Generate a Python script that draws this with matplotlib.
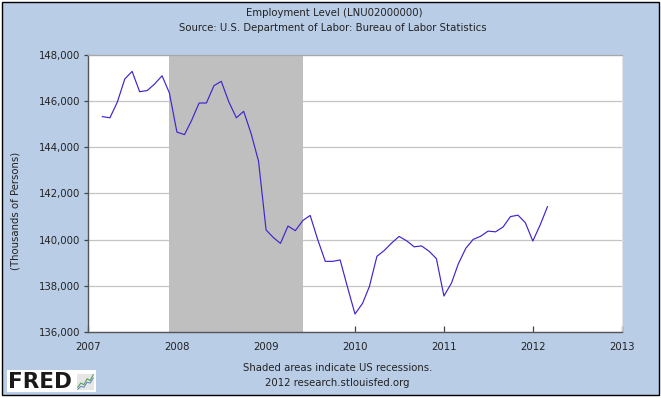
import matplotlib
matplotlib.use("Agg")
import matplotlib.pyplot as plt
import matplotlib.dates as mdates
import matplotlib.patches as mpatches
import pandas as pd
from matplotlib.ticker import FuncFormatter

# ---- data (thousands of persons), monthly Mar 2007 - Mar 2012 ----
start_month = "2007-03-01"
values = [
    145330, 145280, 145950, 146960, 147290, 146410, 146460, 146740, 147100, 146360,
    144660, 144550, 145160, 145920, 145920, 146670, 146860, 145970, 145280, 145560, 144580, 143400,
    140420, 140080, 139840, 140590, 140390, 140830, 141050, 140000, 139060, 139060, 139120, 137950,
    136780, 137240, 137970, 139280, 139530, 139860, 140140, 139950, 139690, 139730, 139500, 139180,
    137560, 138120, 138950, 139630, 140010, 140150, 140370, 140340, 140550, 141000, 141060, 140740,
    139940, 140660, 141430,
]
dates = pd.date_range(start_month, periods=len(values), freq="MS")

recession_start = "2007-12-01"
recession_end = "2009-06-01"

year_ticks = [2007, 2008, 2009, 2010, 2011, 2012, 2013]
y_ticks = [136000, 138000, 140000, 142000, 144000, 146000, 148000]

title = "Employment Level (LNU02000000)"
subtitle = "Source: U.S. Department of Labor: Bureau of Labor Statistics"
ylabel = "(Thousands of Persons)"
note1 = "Shaded areas indicate US recessions."
note2 = "2012 research.stlouisfed.org"

# logo sparkline (decorative)
logo_a = [1, 2, 1.6, 3, 2.6, 4]
logo_b = [0.5, 1.2, 1.0, 2.2, 2.0, 3.2]

BG = "#B9CDE6"
W, H = 661, 398
fig = plt.figure(figsize=(W / 100, H / 100), dpi=100, facecolor="white")

# framed blue background
fig.patches.append(mpatches.Rectangle((1.5 / W, 1 - 394.5 / H), 657.5 / W, 393 / H,
                                      transform=fig.transFigure, facecolor=BG,
                                      edgecolor="black", linewidth=1.0, zorder=-3))

ax = fig.add_axes([88 / W, 1 - 332 / H, (622 - 88) / W, (332 - 55) / H])
ax.set_facecolor("white")

ax.plot(dates, values, color="#4422CC", linewidth=0.85, zorder=4)
ax.axvspan(pd.Timestamp(recession_start), pd.Timestamp(recession_end),
           color="#BFBFBF", zorder=2, linewidth=0)

ax.set_xlim(pd.Timestamp(f"{year_ticks[0]}-01-01"), pd.Timestamp(f"{year_ticks[-1]}-01-01"))
ax.set_ylim(y_ticks[0], y_ticks[-1])
ax.set_xticks([pd.Timestamp(f"{y}-01-01") for y in year_ticks])
ax.xaxis.set_major_formatter(mdates.DateFormatter("%Y"))
ax.set_yticks(y_ticks)
ax.yaxis.set_major_formatter(FuncFormatter(lambda v, p: f"{int(v):,}"))

ax.grid(axis="y", color="#C4C4C4", linewidth=0.9, zorder=1)
ax.set_axisbelow(True)

ax.tick_params(axis="x", direction="in", length=4.5, width=0.9, color="#444444",
               pad=7, labelsize=7.3, labelcolor="#222222")
ax.tick_params(axis="y", direction="out", length=3, width=0.9, color="#444444",
               pad=2.5, labelsize=7.3, labelcolor="#222222")

for s in ["left", "bottom"]:
    ax.spines[s].set_color("#555555")
    ax.spines[s].set_linewidth(1.0)
ax.spines["top"].set_color("#A8A8A8")
ax.spines["top"].set_linewidth(0.9)
ax.spines["right"].set_color("#E8E8E8")
ax.spines["right"].set_linewidth(0.6)
for s in ax.spines.values():
    s.set_zorder(5)

fig.text(16 / W, 1 - 211 / H, ylabel, rotation=90, ha="center", va="center",
         fontsize=7.3, color="#222222")
fig.text(334 / W, 1 - 13 / H, title, ha="center", va="center", fontsize=7.3, color="#222222")
fig.text(333 / W, 1 - 28 / H, subtitle, ha="center", va="center", fontsize=7.3, color="#222222")
fig.text(338 / W, 1 - 368 / H, note1, ha="center", va="center", fontsize=7.3, color="#222222")
fig.text(337 / W, 1 - 383 / H, note2, ha="center", va="center", fontsize=7.3, color="#222222")

# FRED logo
fig.patches.append(mpatches.Rectangle((7 / W, 1 - 392 / H), 89 / W, 22 / H,
                                      transform=fig.transFigure, facecolor="white",
                                      edgecolor="none", zorder=-2))
fig.text(7.5 / W, 1 - 381.5 / H, "FRED", ha="left", va="center", fontsize=15.5,
         fontweight="heavy", color="#1a1a1a", family="DejaVu Sans")
lax = fig.add_axes([77 / W, 1 - 390 / H, 17 / W, 16 / H])
lax.set_facecolor("#E6E6E6")
lax.plot(range(len(logo_a)), logo_a, color="#5A9E5A", linewidth=0.8)
lax.plot(range(len(logo_b)), logo_b, color="#6A8FC8", linewidth=0.8)
lax.set_xticks([]); lax.set_yticks([])
for s in lax.spines.values():
    s.set_visible(False)

fig.savefig("out.png", dpi=100, facecolor=fig.get_facecolor())
